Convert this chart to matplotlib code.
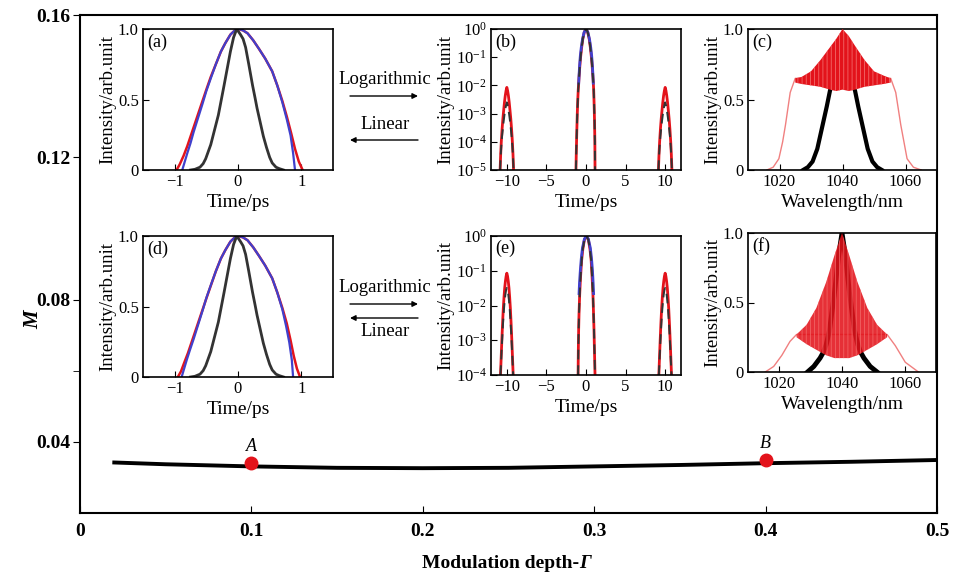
import numpy as np
import matplotlib
matplotlib.use('Agg')
import matplotlib.pyplot as plt
from matplotlib.ticker import NullLocator, LogLocator

plt.rcParams['font.family'] = ['Liberation Serif', 'DejaVu Serif']
plt.rcParams['mathtext.fontset'] = 'stix'
plt.rcParams['hatch.linewidth'] = 0.6

RED = '#e3131b'
BLUE = '#4040cc'
PINK = '#f08080'

# main curve M(Gamma)
gamma = [0.02, 0.05, 0.1, 0.15, 0.2, 0.25, 0.3, 0.35, 0.4, 0.45, 0.5]
M_val = [0.0342, 0.0337, 0.0331, 0.0327, 0.0326, 0.0327, 0.0331, 0.0335, 0.0340, 0.0344, 0.0349]
pt_gamma = [0.1, 0.4]
pt_M = [0.0340, 0.0348]
pt_lab = ['A', 'B']

# (a) / (d) linear temporal profiles
a_red_t = [-0.97, -0.92, -0.86, -0.80, -0.74, -0.68, -0.62, -0.56, -0.50, -0.43, -0.35, -0.27, -0.2, -0.12, -0.05,
           0.0, 0.08, 0.15, 0.24, 0.33, 0.43, 0.54, 0.62, 0.70, 0.77, 0.84, 0.90, 0.96, 1.02]
a_red_I = [0, 0.04, 0.1, 0.17, 0.25, 0.33, 0.41, 0.49, 0.57, 0.66, 0.75, 0.84, 0.90, 0.96, 0.99,
           1.0, 0.99, 0.97, 0.92, 0.86, 0.79, 0.70, 0.60, 0.49, 0.38, 0.26, 0.15, 0.06, 0]
a_blue_t = [-0.88, -0.84, -0.80, -0.75, -0.70, -0.63, -0.56, -0.50, -0.43, -0.35, -0.27, -0.2, -0.12, -0.05,
            0.02, 0.08, 0.15, 0.24, 0.33, 0.43, 0.54, 0.62, 0.70, 0.77, 0.83, 0.87, 0.90]
a_blue_I = [0, 0.06, 0.12, 0.19, 0.27, 0.37, 0.47, 0.56, 0.65, 0.75, 0.84, 0.90, 0.96, 0.99,
            1.0, 0.99, 0.97, 0.92, 0.86, 0.79, 0.70, 0.60, 0.48, 0.36, 0.245, 0.12, 0]
a_blk_t = [-0.75, -0.68, -0.6, -0.55, -0.51, -0.47, -0.43, -0.39, -0.35, -0.31, -0.28, -0.25, -0.22, -0.17, -0.12,
           -0.07, -0.02, 0.04, 0.08, 0.12, 0.17, 0.23, 0.27, 0.3, 0.33, 0.36, 0.4, 0.45, 0.5, 0.54, 0.6, 0.65, 0.72]
a_blk_I = [0, 0.005, 0.02, 0.045, 0.08, 0.13, 0.18, 0.25, 0.32, 0.39, 0.46, 0.53, 0.6, 0.72, 0.84,
           0.94, 1.0, 0.96, 0.93, 0.87, 0.75, 0.6, 0.51, 0.44, 0.38, 0.32, 0.24, 0.16, 0.09, 0.05, 0.02, 0.01, 0]

d_red_t = [-0.95, -0.90, -0.85, -0.79, -0.73, -0.67, -0.61, -0.55, -0.49, -0.42, -0.35, -0.27, -0.2, -0.12, -0.05,
           0.0, 0.08, 0.15, 0.24, 0.33, 0.43, 0.54, 0.62, 0.70, 0.77, 0.83, 0.88, 0.93, 0.98]
d_red_I = a_red_I
d_blue_t = [-0.89, -0.85, -0.81, -0.76, -0.70, -0.63, -0.56, -0.50, -0.43, -0.35, -0.27, -0.2, -0.12, -0.05,
            0.02, 0.08, 0.15, 0.24, 0.33, 0.43, 0.54, 0.62, 0.70, 0.76, 0.81, 0.85, 0.87]
d_blue_I = a_blue_I
d_blk_t = a_blk_t
d_blk_I = a_blk_I

# (b) logarithmic temporal profile
b_cen_t = [-1.27, -1.22, -1.16, -1.1, -1.04, -0.98, -0.9, -0.8, -0.7, -0.55, -0.4, -0.2, 0,
           0.2, 0.4, 0.55, 0.7, 0.8, 0.9, 0.97, 1.03, 1.08, 1.12, 1.14]
b_cen_I = [1e-5, 5e-5, 2.5e-4, 1e-3, 3e-3, 7e-3, 1.6e-2, 4e-2, 9e-2, 0.22, 0.45, 0.8, 1,
           0.8, 0.45, 0.22, 9e-2, 4e-2, 1.6e-2, 7e-3, 2e-3, 5e-4, 1e-4, 1e-5]
b_blue_t = [-0.92, -0.88, -0.82, -0.72, -0.6, -0.45, -0.25, 0, 0.25, 0.45, 0.6, 0.72, 0.82, 0.88, 0.92]
b_blue_I = [1.2e-2, 2.2e-2, 4.5e-2, 0.11, 0.22, 0.42, 0.75, 1, 0.75, 0.42, 0.22, 0.11, 4.5e-2, 2.2e-2, 1.2e-2]
b_side_dt = [-0.85, -0.78, -0.7, -0.6, -0.5, -0.4, -0.3, -0.2, -0.1, 0, 0.1, 0.2, 0.3, 0.4, 0.5, 0.6, 0.7, 0.78, 0.85]
b_side_red = [1e-5, 3.5e-5, 1e-4, 2.8e-4, 6.5e-4, 1.3e-3, 2.5e-3, 4.3e-3, 6.5e-3, 8.5e-3,
              6.5e-3, 4.3e-3, 2.5e-3, 1.3e-3, 6.5e-4, 2.8e-4, 1e-4, 3.5e-5, 1e-5]
b_side_blk = [1e-5, 3e-5, 7e-5, 1.6e-4, 3e-4, 5.5e-4, 9e-4, 1.4e-3, 2e-3, 2.5e-3,
              2e-3, 1.4e-3, 9e-4, 5.5e-4, 3e-4, 1.6e-4, 7e-5, 3e-5, 1e-5]
side_pos = [-10, 10]

# (e) logarithmic temporal profile
e_cen_t = [-1.0, -0.97, -0.93, -0.88, -0.8, -0.7, -0.55, -0.4, -0.2, 0.05,
           0.3, 0.5, 0.65, 0.78, 0.88, 0.95, 1.01, 1.07, 1.14]
e_cen_I = [1e-4, 5e-4, 2e-3, 6e-3, 2e-2, 6e-2, 0.2, 0.42, 0.78, 1,
           0.78, 0.42, 0.2, 6e-2, 2e-2, 6e-3, 2e-3, 5e-4, 1e-4]
e_blue_t = [-0.88, -0.82, -0.72, -0.6, -0.45, -0.2, 0.05, 0.3, 0.55, 0.7, 0.82, 0.9, 0.96]
e_blue_I = [2.2e-2, 4.5e-2, 0.1, 0.22, 0.45, 0.82, 1, 0.82, 0.45, 0.22, 0.1, 4.5e-2, 2.2e-2]
e_side_dt = [-0.8, -0.72, -0.63, -0.54, -0.45, -0.36, -0.27, -0.18, -0.09, 0,
             0.09, 0.18, 0.27, 0.36, 0.45, 0.54, 0.63, 0.72, 0.8]
e_side_red = [1e-4, 3e-4, 1e-3, 3e-3, 8e-3, 1.7e-2, 3.2e-2, 5e-2, 7e-2, 8.5e-2,
              7e-2, 5e-2, 3.2e-2, 1.7e-2, 8e-3, 3e-3, 1e-3, 3e-4, 1e-4]
e_side_blk = [1e-4, 2.5e-4, 7e-4, 1.8e-3, 4e-3, 8e-3, 1.4e-2, 2.1e-2, 2.8e-2, 3.2e-2,
              2.8e-2, 2.1e-2, 1.4e-2, 8e-3, 4e-3, 1.8e-3, 7e-4, 2.5e-4, 1e-4]

# (c) spectrum
c_thin_wl = [1016, 1018, 1019.8, 1021, 1021.9, 1023.4, 1025, 1055.3, 1056.9, 1058.5, 1059.5, 1060.5, 1062.5, 1065]
c_thin_I = [0, 0.02, 0.08, 0.2, 0.32, 0.55, 0.65, 0.65, 0.55, 0.32, 0.2, 0.08, 0.02, 0]
c_fill_wl = [1025, 1027, 1030, 1033, 1036, 1038, 1040, 1042, 1044, 1047, 1050, 1053, 1055.3]
c_fill_top = [0.65, 0.66, 0.70, 0.78, 0.87, 0.93, 1.0, 0.95, 0.88, 0.78, 0.70, 0.67, 0.65]
c_fill_bot = [0.62, 0.61, 0.60, 0.59, 0.57, 0.56, 0.57, 0.56, 0.57, 0.59, 0.60, 0.61, 0.62]
c_blk_wl = [1027.5, 1029, 1030.5, 1032, 1033.5, 1035, 1036, 1037, 1040, 1043, 1044, 1045, 1046.5, 1048, 1049.5, 1051, 1052.5]
c_blk_I = [0, 0.02, 0.06, 0.15, 0.3, 0.45, 0.56, 0.65, 0.7, 0.65, 0.56, 0.45, 0.3, 0.15, 0.06, 0.02, 0]

# (f) spectrum
f_thin_wl = [1015.5, 1018.2, 1020.8, 1023.4, 1025.5, 1054.4, 1057, 1060.2, 1064.4]
f_thin_I = [0, 0.04, 0.12, 0.22, 0.27, 0.27, 0.19, 0.07, 0]
f_fill_wl = [1025.5, 1028.7, 1031.8, 1035, 1037.6, 1040, 1042.3, 1044.9, 1048.1, 1051.2, 1054.4]
f_fill_top = [0.27, 0.34, 0.46, 0.65, 0.84, 1.0, 0.84, 0.65, 0.46, 0.34, 0.27]
f_fill_bot = [0.25, 0.2, 0.16, 0.12, 0.1, 0.1, 0.1, 0.12, 0.16, 0.2, 0.25]
f_blk_wl = [1029, 1031, 1033, 1034, 1035, 1036, 1037.5, 1039, 1040, 1041, 1042.5, 1044, 1045, 1046, 1047, 1049, 1051.2]
f_blk_I = [0, 0.04, 0.1, 0.14, 0.2, 0.3, 0.55, 0.85, 1.0, 0.85, 0.55, 0.3, 0.2, 0.14, 0.1, 0.04, 0]

W, H = 954, 577


def px(x, y):
    return (x / W, 1 - y / H)


fig = plt.figure(figsize=(W / 100, H / 100), dpi=100)

# ---- main axes
ax = fig.add_axes([80 / W, 1 - 513 / H, 857 / W, 498 / H])
ax.plot(gamma, M_val, color='k', lw=2.8)
ax.plot(pt_gamma, pt_M, 'o', color=RED, ms=9, zorder=5)
for g, m, lab in zip(pt_gamma, pt_M, pt_lab):
    ax.text(g, m + 0.0047, lab, style='italic', ha='center', va='center', fontsize=13)
ax.set_xlim(0, 0.5)
ax.set_ylim(0.02, 0.16)
ax.set_xticks([0, 0.1, 0.2, 0.3, 0.4, 0.5])
ax.set_xticklabels(['0', '0.1', '0.2', '0.3', '0.4', '0.5'], fontweight='bold', fontsize=14)
ax.set_yticks([0.04, 0.08, 0.12, 0.16])
ax.set_yticklabels(['0.04', '0.08', '0.12', '0.16'], fontweight='bold', fontsize=14)
ax.set_yticks([0.06], minor=True)
ax.tick_params(axis='x', direction='in', length=5, pad=7)
ax.tick_params(axis='y', which='both', direction='out', length=5, pad=2)
for s in ax.spines.values():
    s.set_linewidth(1.5)
fig.text(*px(579, 563), 'Modulation depth-', fontweight='bold', fontsize=14, ha='right', va='center')
fig.text(*px(579, 563), '\u0393', fontweight='bold', style='italic', fontsize=14, ha='left', va='center')
fig.text(*px(33, 320), 'M', fontweight='bold', style='italic', fontsize=15,
         ha='center', va='center', rotation=90)


def inset(rect, label, xlim, ylim, xticks, xlabs, xlabel, log=False):
    a = fig.add_axes(rect)
    a.set_xlim(*xlim)
    if log:
        a.set_yscale('log')
        a.yaxis.set_major_locator(LogLocator(base=10.0, numticks=12))
        a.yaxis.set_minor_locator(NullLocator())
    else:
        a.set_yticks([0, 0.5, 1.0])
        a.set_yticklabels(['0', '0.5', '1.0'])
    a.set_ylim(*ylim)
    a.set_xticks(xticks)
    a.set_xticklabels(xlabs)
    a.tick_params(direction='in', length=4, labelsize=12, pad=3)
    for s in a.spines.values():
        s.set_linewidth(1.2)
    a.set_xlabel(xlabel, fontsize=14, labelpad=3)
    a.set_ylabel('Intensity/arb.unit', fontsize=13.5, labelpad=1)
    a.text(0.02, 0.97, label, transform=a.transAxes, ha='left', va='top', fontsize=13)
    return a


row1 = 1 - 170 / H
row2 = 1 - 377 / H
h = 141 / H
tlab = ['\u22121', '0', '1']
blab = ['\u221210', '\u22125', '0', '5', '10']

# (a)
axa = inset([143 / W, row1, 190 / W, h], '(a)', (-1.5, 1.5), (0, 1), [-1, 0, 1], tlab, 'Time/ps')
axa.plot(a_red_t, a_red_I, color=RED, lw=1.8)
axa.plot(a_blue_t, a_blue_I, color=BLUE, lw=1.6)
axa.plot(a_blk_t, a_blk_I, color='#333333', lw=2.0)

# (d)
axd = inset([143 / W, row2, 190 / W, h], '(d)', (-1.5, 1.5), (0, 1), [-1, 0, 1], tlab, 'Time/ps')
axd.plot(d_red_t, d_red_I, color=RED, lw=1.8)
axd.plot(d_blue_t, d_blue_I, color=BLUE, lw=1.6)
axd.plot(d_blk_t, d_blk_I, color='#333333', lw=2.0)


def log_panel(a, cen_t, cen_I, blue_t, blue_I, sdt, sred, sblk):
    a.plot(cen_t, cen_I, color=RED, lw=2.0)
    a.plot(blue_t, blue_I, color=BLUE, lw=2.0)
    a.plot(cen_t, cen_I, color='#333333', lw=1.4, ls=(0, (5, 3)))
    for p in side_pos:
        st = [p + d for d in sdt]
        a.plot(st, sred, color=RED, lw=2.0)
        a.plot(st, sblk, color='#333333', lw=1.4, ls=(0, (5, 3)))


# (b)
axb = inset([491 / W, row1, 190 / W, h], '(b)', (-12, 12), (1e-5, 1), [-10, -5, 0, 5, 10], blab, 'Time/ps', log=True)
log_panel(axb, b_cen_t, b_cen_I, b_blue_t, b_blue_I, b_side_dt, b_side_red, b_side_blk)

# (e)
axe = inset([491 / W, 1 - 375 / H, 190 / W, 139 / H], '(e)', (-12, 12), (1e-4, 1), [-10, -5, 0, 5, 10], blab, 'Time/ps', log=True)
log_panel(axe, e_cen_t, e_cen_I, e_blue_t, e_blue_I, e_side_dt, e_side_red, e_side_blk)

wlab = ['1020', '1040', '1060']

# (c)
axc = inset([748 / W, row1, 189 / W, h], '(c)', (1010, 1070), (0, 1), [1020, 1040, 1060], wlab, 'Wavelength/nm')
axc.plot(c_thin_wl, c_thin_I, color=PINK, lw=1.0)
axc.plot(c_blk_wl, c_blk_I, color='k', lw=3.0)
axc.fill_between(c_fill_wl, c_fill_bot, c_fill_top, facecolor=RED, edgecolor='#f26a6a', hatch='||||', lw=0, zorder=3)

# (f)
axf = inset([748 / W, 1 - 372 / H, 188 / W, 139 / H], '(f)', (1010, 1070), (0, 1), [1020, 1040, 1060], wlab, 'Wavelength/nm')
axf.plot(f_thin_wl, f_thin_I, color=PINK, lw=1.0)
axf.plot(f_blk_wl, f_blk_I, color='k', lw=3.5)
axf.fill_between(f_fill_wl, f_fill_bot, f_fill_top, facecolor=RED, edgecolor='#f26a6a', hatch='||||', lw=0, alpha=0.88, zorder=3)

# arrows between panels
arrow = dict(arrowstyle='-|>', color='k', lw=1.0, mutation_scale=8, shrinkA=0, shrinkB=0)
for yl, ya, yb, yt in [(79, 96, 140, 125), (288, 304, 318, 332)]:
    fig.text(*px(385, yl), 'Logarithmic', ha='center', va='center', fontsize=13.5)
    fig.text(*px(385, yt), 'Linear', ha='center', va='center', fontsize=13.5)
    ax.annotate('', xy=px(418, ya), xytext=px(350, ya), xycoords='figure fraction',
                textcoords='figure fraction', arrowprops=arrow)
    ax.annotate('', xy=px(350, yb), xytext=px(418, yb), xycoords='figure fraction',
                textcoords='figure fraction', arrowprops=arrow)

fig.savefig('out.png', dpi=100)
